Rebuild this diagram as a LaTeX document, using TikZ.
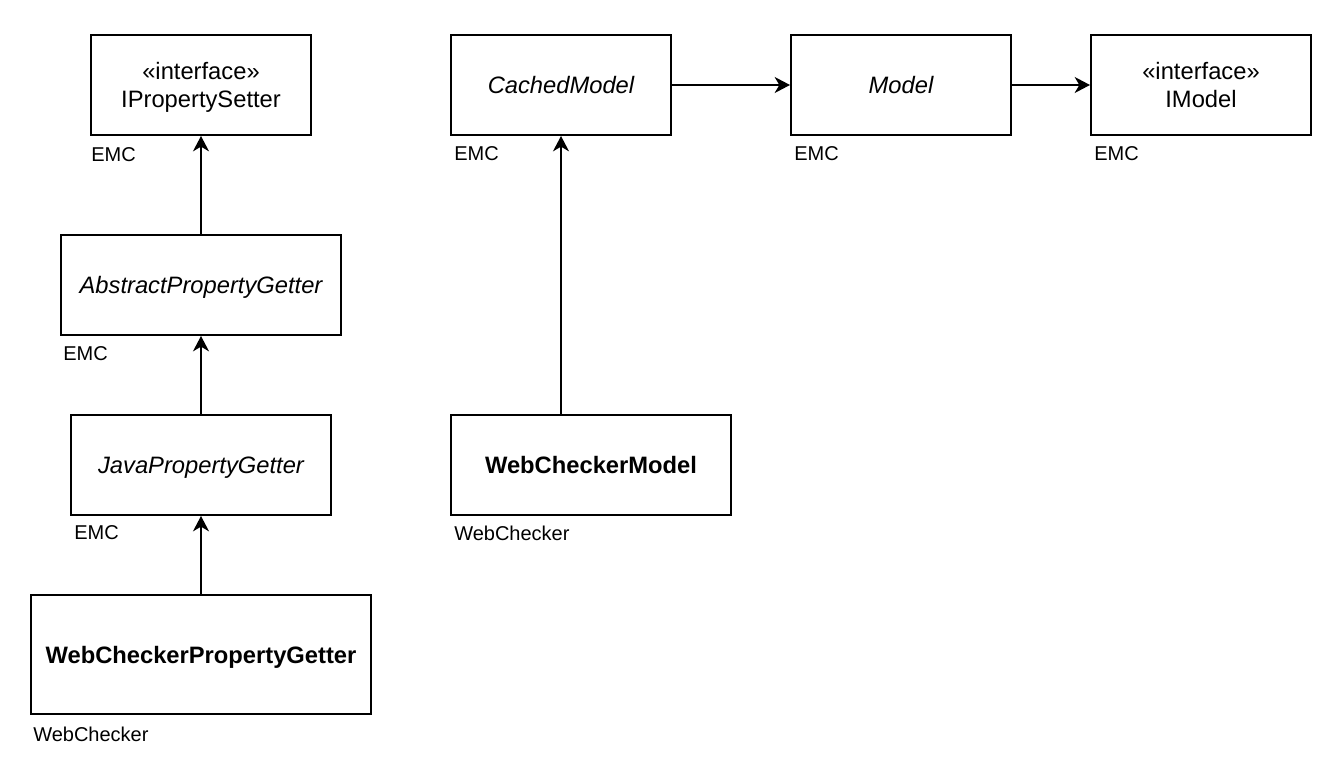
\documentclass[tikz,border=0pt]{standalone}
\usepackage{fontspec}
\setmainfont{Liberation Sans}
\usetikzlibrary{arrows.meta}
\begin{document}
\begin{tikzpicture}[x=0.75pt,y=-0.75pt,
  cls/.style={draw,line width=1.5pt,rectangle,inner sep=0pt,text depth=0pt,align=center,font=\fontsize{17.8}{21}\selectfont},
  pkg/.style={anchor=west,inner sep=0pt,font=\fontsize{15}{17}\selectfont},
  gen/.style={line width=1.5pt,-{Stealth[length=11.5pt,width=12pt,inset=3.5pt]}}]
\useasboundingbox (0,0) rectangle (1338,766);
\node[cls,minimum width=165pt,minimum height=75pt] (ips) at (201,85) {«interface»\\IPropertySetter};
\node[cls,minimum width=210pt,minimum height=75pt] (apg) at (201,285) {\itshape AbstractPropertyGetter};
\node[cls,minimum width=195pt,minimum height=75pt] (jpg) at (201,465) {\itshape JavaPropertyGetter};
\node[cls,minimum width=255pt,minimum height=89.25pt] (wpg) at (201,654.5) {\bfseries WebCheckerPropertyGetter};
\node[cls,minimum width=165pt,minimum height=75pt] (cm) at (561,85) {\itshape CachedModel};
\node[cls,minimum width=165pt,minimum height=75pt] (md) at (901,85) {\itshape Model};
\node[cls,minimum width=165pt,minimum height=75pt] (im) at (1201,85) {«interface»\\IModel};
\node[cls,minimum width=210pt,minimum height=75pt] (wcm) at (591,465) {\bfseries WebCheckerModel};
\node[pkg] (l1) at (91,155) {EMC};
\node[pkg] (l2) at (63,354) {EMC};
\node[pkg] (l3) at (74,533) {EMC};
\node[pkg] (l4) at (33,734) {WebChecker};
\node[pkg] (l5) at (454,154) {EMC};
\node[pkg] (l6) at (794,154) {EMC};
\node[pkg] (l7) at (1094,154) {EMC};
\node[pkg] (l8) at (454,533) {WebChecker};
\draw[gen] (apg.north) -- (ips.south);
\draw[gen] (jpg.north) -- (apg.south);
\draw[gen] (wpg.north) -- (jpg.south);
\draw[gen] (wcm.north -| cm.south) -- (cm.south);
\draw[gen] (cm.east) -- (md.west);
\draw[gen] (md.east) -- (im.west);
\end{tikzpicture}
\end{document}
